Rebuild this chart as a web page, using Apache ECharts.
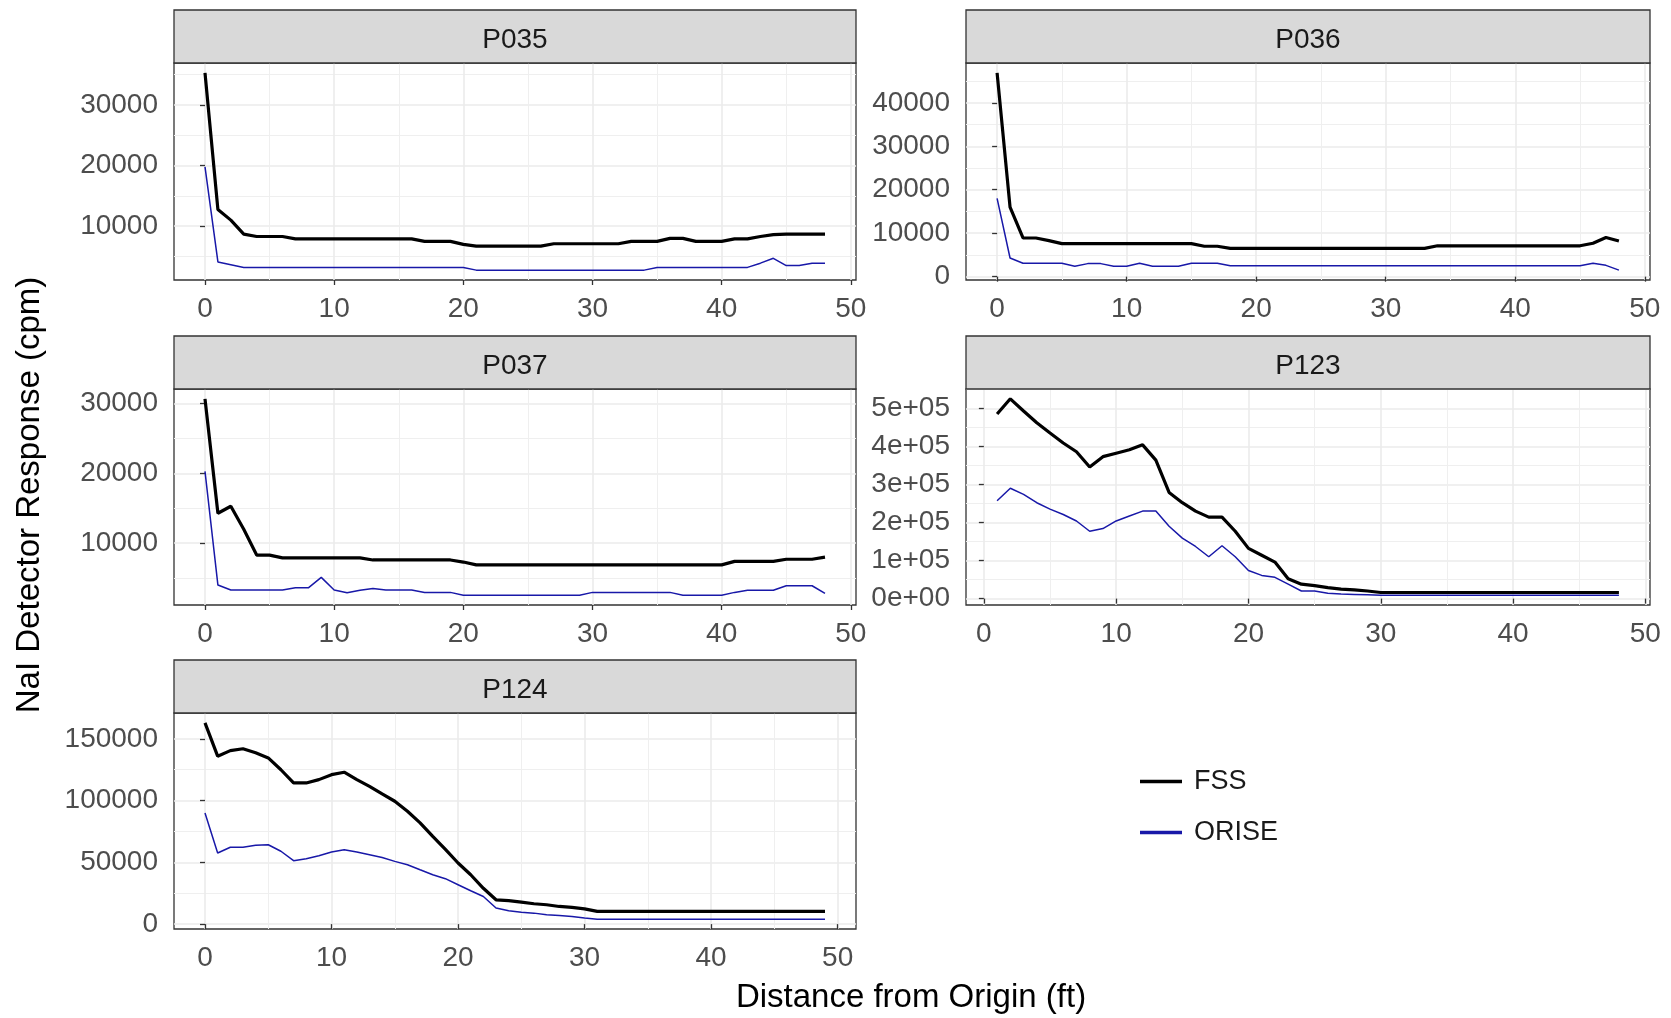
<!DOCTYPE html>
<html>
<head>
<meta charset="utf-8">
<script src="https://cdn.jsdelivr.net/npm/echarts@6/dist/echarts.min.js"></script>
<style>
html,body{margin:0;padding:0;background:#fff}
#chart{width:1671px;height:1018px}
</style>
</head>
<body>
<div id="chart"></div>
<script>
// distances (ft)
var dist0to48 = [0,1,2,3,4,5,6,7,8,9,10,11,12,13,14,15,16,17,18,19,20,21,22,23,24,25,26,27,28,29,30,31,32,33,34,35,36,37,38,39,40,41,42,43,44,45,46,47,48];
var dist1to48 = [1,2,3,4,5,6,7,8,9,10,11,12,13,14,15,16,17,18,19,20,21,22,23,24,25,26,27,28,29,30,31,32,33,34,35,36,37,38,39,40,41,42,43,44,45,46,47,48];
var dist0to49 = [0,1,2,3,4,5,6,7,8,9,10,11,12,13,14,15,16,17,18,19,20,21,22,23,24,25,26,27,28,29,30,31,32,33,34,35,36,37,38,39,40,41,42,43,44,45,46,47,48,49];

// P035
var fss035   = [35300,12750,11000,8700,8300,8300,8300,7900,7900,7900,7900,7900,7900,7900,7900,7900,7900,7500,7500,7500,7000,6700,6700,6700,6700,6700,6700,7100,7100,7100,7100,7100,7100,7500,7500,7500,8000,8000,7500,7500,7500,7900,7900,8300,8600,8700,8700,8700,8700];
var orise035 = [19800,4100,3650,3200,3200,3200,3200,3200,3200,3200,3200,3200,3200,3200,3200,3200,3200,3200,3200,3200,3200,2750,2750,2750,2750,2750,2750,2750,2750,2750,2750,2750,2750,2750,2750,3200,3200,3200,3200,3200,3200,3200,3200,3900,4700,3500,3500,3900,3900];

// P036
var fss036   = [46900,16000,8900,8900,8300,7600,7600,7600,7600,7600,7600,7600,7600,7600,7600,7600,7000,7000,6500,6500,6500,6500,6500,6500,6500,6500,6500,6500,6500,6500,6500,6500,6500,6500,7100,7100,7100,7100,7100,7100,7100,7100,7100,7100,7100,7100,7700,9000,8200];
var orise036 = [18000,4300,3100,3100,3100,3100,2400,3000,3000,2400,2400,3100,2400,2400,2400,3100,3100,3100,2500,2500,2500,2500,2500,2500,2500,2500,2500,2500,2500,2500,2500,2500,2500,2500,2500,2500,2500,2500,2500,2500,2500,2500,2500,2500,2500,2500,3100,2600,1500];

// P037
var fss037   = [30700,14300,15300,12000,8300,8300,7900,7900,7900,7900,7900,7900,7900,7600,7600,7600,7600,7600,7600,7600,7300,6900,6900,6900,6900,6900,6900,6900,6900,6900,6900,6900,6900,6900,6900,6900,6900,6900,6900,6900,6900,7400,7400,7400,7400,7700,7700,7700,8000];
var orise037 = [20300,4000,3300,3300,3300,3300,3300,3600,3600,5100,3300,2900,3250,3500,3300,3300,3300,2950,2950,2950,2550,2550,2550,2550,2550,2550,2550,2550,2550,2550,2950,2950,2950,2950,2950,2950,2950,2550,2550,2550,2550,2950,3250,3250,3250,3900,3900,3900,2800];

// P123
var fss123   = [485000,525000,493000,462000,435000,409000,386000,346000,373000,382000,391000,404000,364000,279000,252000,230000,214000,214000,177000,132000,114000,96000,52000,38000,34000,29000,25000,23000,20000,16000,16000,16000,16000,16000,16000,16000,16000,16000,16000,16000,16000,16000,16000,16000,16000,16000,16000,16000];
var orise123 = [257000,290000,274000,252000,235000,221000,204000,177000,184000,204000,217000,230000,230000,190000,159000,137000,110000,139000,110000,74000,61000,56000,38000,20000,20000,14000,12000,11000,10000,9000,9000,9000,9000,9000,9000,9000,9000,9000,9000,9000,9000,9000,9000,9000,9000,9000,9000,9000];

// P124
var fss124   = [163000,136000,140500,142000,138700,134600,125000,114300,114300,117000,121000,123000,117000,111600,105400,99500,91400,82000,71000,60500,49500,40000,29000,19700,19000,17800,16500,15700,14300,13500,12400,10300,10300,10300,10300,10300,10300,10300,10300,10300,10300,10300,10300,10300,10300,10300,10300,10300,10300,10300];
var orise124 = [90000,57600,62200,62200,63800,64300,59000,51400,53000,55400,58400,60300,58400,56200,54000,50800,48100,44000,40000,36800,31900,27000,22400,13000,10800,9700,8900,7600,7000,6200,4900,4000,4000,4000,4000,4000,4000,4000,4000,4000,4000,4000,4000,4000,4000,4000,4000,4000,4000,4000];

// tick labels
var xTicks    = [0,10,20,30,40,50];
var yTicks035 = [10000,20000,30000];
var yTicks036 = [0,10000,20000,30000,40000];
var yTicks037 = [10000,20000,30000];
var yTicks123 = [0,100000,200000,300000,400000,500000];
var yTicks124 = [0,50000,100000,150000];

var panelNames = ['P035','P036','P037','P123','P124'];

var panels = [
  {dist: dist0to48, fss: fss035, orise: orise035, yTicks: yTicks035, sci: false},
  {dist: dist0to48, fss: fss036, orise: orise036, yTicks: yTicks036, sci: false},
  {dist: dist0to48, fss: fss037, orise: orise037, yTicks: yTicks037, sci: false},
  {dist: dist1to48, fss: fss123, orise: orise123, yTicks: yTicks123, sci: true},
  {dist: dist0to49, fss: fss124, orise: orise124, yTicks: yTicks124, sci: false}
];

// panel boxes (px)
var boxes = [
  {left: 174, top: 63,  width: 682, height: 217},
  {left: 966, top: 63,  width: 684, height: 217},
  {left: 174, top: 389, width: 682, height: 216},
  {left: 966, top: 389, width: 684, height: 216},
  {left: 174, top: 713, width: 682, height: 216}
];
var stripH = 53;

var FONT = '"Liberation Sans", Arial, sans-serif';
var BLUE = '#1818a8';

function sci(v) {
  if (v === 0) return '0e+00';
  var e = Math.floor(Math.log10(Math.abs(v)));
  var m = Math.round(v / Math.pow(10, e) * 100) / 100;
  return m + 'e+' + (e < 10 ? '0' + e : e);
}

function expandMin(v) { return v.min - 0.05 * (v.max - v.min); }
function expandMax(v) { return v.max + 0.05 * (v.max - v.min); }

var grids = [], xAxes = [], yAxes = [], series = [], graphics = [];

panels.forEach(function (p, i) {
  var b = boxes[i];
  grids.push({
    left: b.left, top: b.top, width: b.width, height: b.height,
    show: true, backgroundColor: '#fff', borderColor: '#333333', borderWidth: 1.3,
    containLabel: false, outerBoundsMode: 'none'
  });

  var xStep = xTicks[1] - xTicks[0];
  xAxes.push({
    type: 'value', gridIndex: i,
    min: expandMin, max: expandMax,
    splitNumber: 5, minInterval: xStep, maxInterval: xStep,
    axisLine: {show: false},
    axisTick: {show: true, length: 5, customValues: xTicks, lineStyle: {color: '#333333', width: 1.3}},
    axisLabel: {
      customValues: xTicks, color: '#4D4D4D', fontSize: 28, fontFamily: FONT, margin: 15,
      formatter: function (v) { return String(v); }
    },
    splitLine: {show: true, lineStyle: {color: '#EBEBEB', width: 1.6}},
    minorTick: {show: false, splitNumber: 2},
    minorSplitLine: {show: true, lineStyle: {color: '#EFEFEF', width: 1}}
  });

  var yStep = p.yTicks[1] - p.yTicks[0];
  yAxes.push({
    type: 'value', gridIndex: i,
    min: expandMin, max: expandMax,
    splitNumber: 5, minInterval: yStep, maxInterval: yStep,
    axisLine: {show: false},
    axisTick: {show: true, length: 5, customValues: p.yTicks, lineStyle: {color: '#333333', width: 1.3}},
    axisLabel: {
      customValues: p.yTicks, color: '#4D4D4D', fontSize: 28, fontFamily: FONT, margin: 16,
      formatter: p.sci ? sci : function (v) { return String(v); }
    },
    splitLine: {show: true, lineStyle: {color: '#EBEBEB', width: 1.6}},
    minorTick: {show: false, splitNumber: 2},
    minorSplitLine: {show: true, lineStyle: {color: '#EFEFEF', width: 1}}
  });

  series.push({
    name: 'FSS', type: 'line', xAxisIndex: i, yAxisIndex: i,
    data: p.dist.map(function (d, k) { return [d, p.fss[k]]; }),
    showSymbol: false, symbol: 'none', color: '#000',
    lineStyle: {color: '#000', width: 3.2}
  });
  series.push({
    name: 'ORISE', type: 'line', xAxisIndex: i, yAxisIndex: i,
    data: p.dist.map(function (d, k) { return [d, p.orise[k]]; }),
    showSymbol: false, symbol: 'none', color: BLUE,
    lineStyle: {color: BLUE, width: 1.5}
  });

  // facet strip
  graphics.push({
    type: 'rect', z: 10,
    shape: {x: b.left, y: b.top - stripH, width: b.width, height: stripH},
    style: {fill: '#D9D9D9', stroke: '#333333', lineWidth: 1.3}
  });
  graphics.push({
    type: 'text', z: 11,
    x: b.left + b.width / 2, y: b.top - stripH / 2 + 4,
    style: {
      text: panelNames[i], fill: '#1A1A1A', font: '28px ' + FONT,
      align: 'center', verticalAlign: 'middle',
      textAlign: 'center', textVerticalAlign: 'middle'
    }
  });
});

graphics.push({
  type: 'text', x: 30, y: 495, rotation: Math.PI / 2,
  style: {
    text: 'NaI Detector Response (cpm)', fill: '#000', font: '33px ' + FONT,
    align: 'center', verticalAlign: 'middle', textAlign: 'center', textVerticalAlign: 'middle'
  }
});
graphics.push({
  type: 'text', x: 911, y: 998,
  style: {
    text: 'Distance from Origin (ft)', fill: '#000', font: '33px ' + FONT,
    align: 'center', verticalAlign: 'middle', textAlign: 'center', textVerticalAlign: 'middle'
  }
});

var myChart = echarts.init(document.getElementById('chart'), null, {renderer: 'canvas'});
myChart.setOption({
  animation: false,
  backgroundColor: '#fff',
  grid: grids,
  xAxis: xAxes,
  yAxis: yAxes,
  series: series,
  legend: {
    show: true, orient: 'vertical', left: 1135, top: 763,
    data: ['FSS', 'ORISE'], icon: 'rect',
    itemWidth: 42, itemHeight: 3.5, itemGap: 24,
    textStyle: {color: '#1A1A1A', fontSize: 27, fontFamily: FONT, padding: [0, 0, 0, 7]}
  },
  graphic: graphics
});
</script>
</body>
</html>
